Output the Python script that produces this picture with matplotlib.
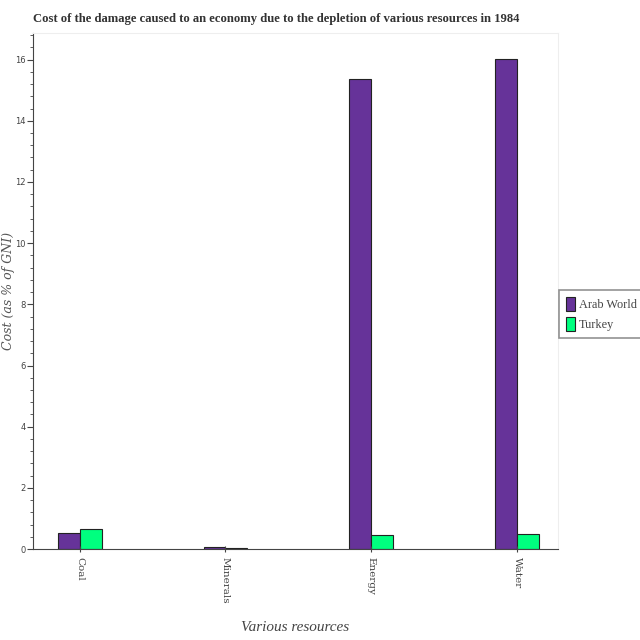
import matplotlib
matplotlib.use("Agg")
import matplotlib.pyplot as plt
import numpy as np
from matplotlib.ticker import MultipleLocator

# data
categories = ["Coal", "Minerals", "Energy", "Water"]
arab_world = [0.52, 0.08, 15.35, 16.02]
turkey = [0.65, 0.04, 0.45, 0.48]

fig = plt.figure(figsize=(6.4, 6.4), dpi=100)
ax = fig.add_axes([0.0516, 0.142, 0.82, 0.806])

x = np.arange(len(categories))
w = 0.15
ax.bar(x - w / 2, arab_world, width=w, color="#663399", edgecolor="#222222",
       linewidth=0.8, label="Arab World")
ax.bar(x + w / 2, turkey, width=w, color="#00ff7f", edgecolor="#222222",
       linewidth=0.8, label="Turkey")

ax.set_xlim(-0.32, 3.28)
ax.set_ylim(0, 16.86)
ax.yaxis.set_major_locator(MultipleLocator(2))
ax.yaxis.set_minor_locator(MultipleLocator(0.4))
ax.set_xticks(x)
ax.set_xticklabels(categories, rotation=-90, fontsize=7.5, family="DejaVu Serif",
                   color="#444444")
for lab in ax.get_yticklabels():
    lab.set_fontsize(6)
    lab.set_family(["Liberation Sans Narrow", "DejaVu Sans"])
    lab.set_color("#444444")

ax.tick_params(axis="y", which="major", length=4, direction="out", color="#444444", pad=1.5)
ax.tick_params(axis="y", which="minor", length=2.5, direction="out", color="#444444")
ax.tick_params(axis="x", length=5, direction="inout", color="#444444")

for side in ["top", "right"]:
    ax.spines[side].set_color("#eeeeee")
    ax.spines[side].set_linewidth(0.8)
ax.spines["left"].set_color("#444444")
ax.spines["bottom"].set_color("#444444")

fig.text(33 / 640, 1 - 19 / 640,
         "Cost of the damage caused to an economy due to the depletion of various resources in 1984",
         fontsize=9.1, fontweight="bold", family="Liberation Serif",
         ha="left", va="center", color="#333333")
ax.set_xlabel("Various resources", fontsize=11, style="italic", family="Liberation Serif",
              color="#444444", va="center")
ax.xaxis.set_label_coords(0.5, -0.151)
ax.set_ylabel("Cost (as % of GNI)", fontsize=9, style="italic", family="DejaVu Serif",
              color="#555555", va="center")
ax.yaxis.set_label_coords(-0.046, 0.5)

leg = fig.legend(loc="upper left", bbox_to_anchor=(559 / 640, 1 - 290 / 640),
                 frameon=True, fancybox=False, edgecolor="#777777",
                 handlelength=0.7, handleheight=1.3, borderpad=0.6,
                 handletextpad=0.35, labelspacing=0.5, borderaxespad=0,
                 prop={"family": "Liberation Serif", "size": 8.8})
leg.get_frame().set_linewidth(1.2)
for t in leg.get_texts():
    t.set_color("#444444")

fig.savefig("out.png", dpi=100)
